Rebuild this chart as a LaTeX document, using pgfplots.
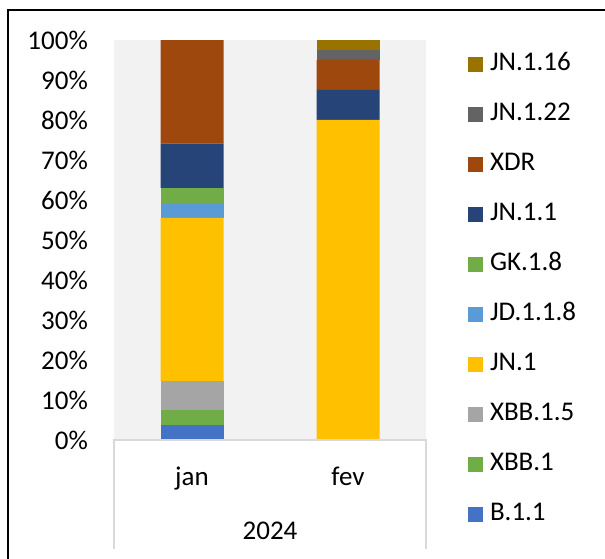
\documentclass[border=0pt]{standalone}
\usepackage{pgfplots}
\pgfplotsset{compat=1.18}
\usepackage{pgfplotstable}
\usepackage{fontspec}
\setmainfont{Carlito}

\definecolor{cB11}{HTML}{4472C4}
\definecolor{cXBB1}{HTML}{70AD47}
\definecolor{cXBB15}{HTML}{A5A5A5}
\definecolor{cJN1}{HTML}{FFC000}
\definecolor{cJD118}{HTML}{5B9BD5}
\definecolor{cGK18}{HTML}{70AD47}
\definecolor{cJN11}{HTML}{264478}
\definecolor{cXDR}{HTML}{9E480E}
\definecolor{cJN122}{HTML}{636363}
\definecolor{cJN116}{HTML}{997300}
\definecolor{plotbg}{HTML}{F2F2F2}
\definecolor{boxline}{HTML}{D9D9D9}

% share of each lineage per month (%)
\pgfplotstableread{
x B11  XBB1 XBB15 JN1   JD118 GK18 JN11  XDR   JN122 JN116
0 3.70 3.70 7.41  40.74 3.70  3.70 11.11 25.93 0     0
1 0    0    0     80.00 0     0    7.50  7.50  2.50  2.50
}\shares

\pgfplotsset{
    sq/.style={legend image code/.code={\fill[##1] (0bp,-7.5bp) rectangle (15bp,7.5bp);}},
}

\begin{document}
\fontsize{27bp}{32bp}\selectfont
\begin{tikzpicture}[x=1bp,y=1bp]
\path[use as bounding box] (0,0) rectangle (605,559);
\draw[black, line width=1.5bp] (8,0) -- (8,549) -- (605,549);
\begin{axis}[
    at={(114bp,119bp)}, anchor=south west,
    scale only axis, width=312bp, height=400bp,
    ybar stacked, bar width=63bp,
    xmin=-0.5, xmax=1.5, ymin=0, ymax=100,
    xtick={0,1}, xticklabels={jan,fev},
    ytick={0,10,...,100},
    yticklabels={0\%,10\%,20\%,30\%,40\%,50\%,60\%,70\%,80\%,90\%,100\%},
    major tick length=0pt,
    axis line style={draw=none},
    axis background/.style={fill=plotbg},
    yticklabel style={anchor=east, inner sep=0pt, xshift=-26bp},
    xticklabel style={anchor=base, inner sep=0pt, yshift=-46bp},
    reverse legend,
    legend style={draw=none, fill=none, inner sep=0pt, outer sep=0pt,
        at={(1,1)}, anchor=north west, xshift=42bp, yshift=-12.7bp,
        nodes={inner sep=0pt, text height=18bp, text depth=5bp},
        row sep=27bp, column sep=7bp},
    legend cell align=left,
]
\addplot[fill=cB11, draw=none, sq] table[x=x, y=B11] {\shares};
\addplot[fill=cXBB1, draw=none, sq] table[x=x, y=XBB1] {\shares};
\addplot[fill=cXBB15, draw=none, sq] table[x=x, y=XBB15] {\shares};
\addplot[fill=cJN1, draw=none, sq] table[x=x, y=JN1] {\shares};
\addplot[fill=cJD118, draw=none, sq] table[x=x, y=JD118] {\shares};
\addplot[fill=cGK18, draw=none, sq] table[x=x, y=GK18] {\shares};
\addplot[fill=cJN11, draw=none, sq] table[x=x, y=JN11] {\shares};
\addplot[fill=cXDR, draw=none, sq] table[x=x, y=XDR] {\shares};
\addplot[fill=cJN122, draw=none, sq] table[x=x, y=JN122] {\shares};
\addplot[fill=cJN116, draw=none, sq] table[x=x, y=JN116] {\shares};
\legend{B.1.1,XBB.1,XBB.1.5,JN.1,JD.1.1.8,GK.1.8,JN.1.1,XDR,JN.1.22,JN.1.16}
\end{axis}
\draw[boxline, line width=1.5bp] (114,10) -- (114,119) -- (426,119) -- (426,10);
\node[anchor=base, inner sep=0pt] at (270,19) {2024};
\end{tikzpicture}
\end{document}
